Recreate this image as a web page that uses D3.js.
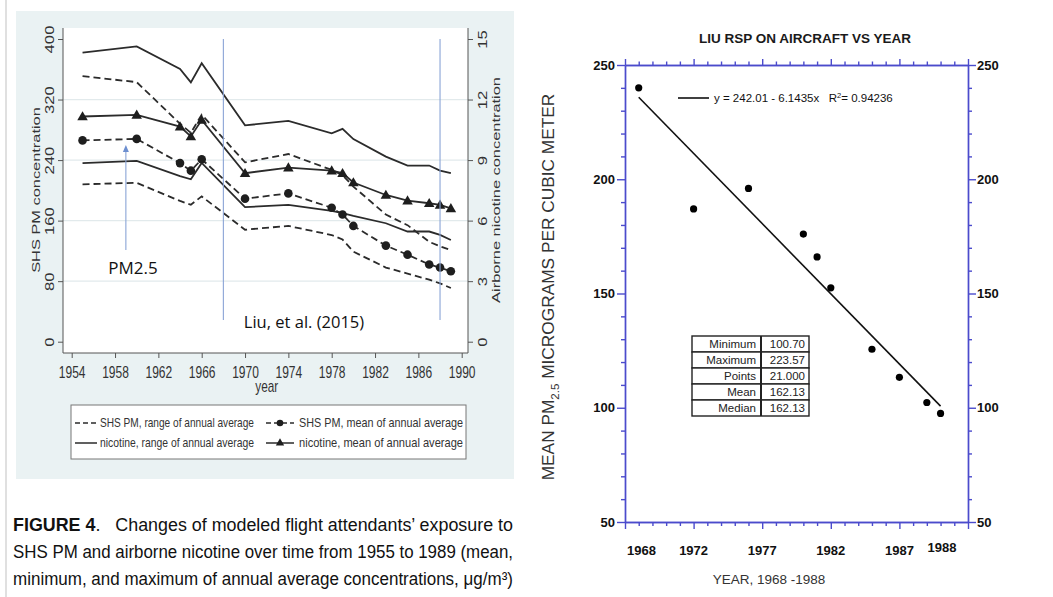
<!DOCTYPE html>
<html><head><meta charset="utf-8">
<script src="https://cdn.jsdelivr.net/npm/d3@7/dist/d3.min.js"></script>
<style>
html,body{margin:0;padding:0;background:#fff;}
svg{display:block;font-family:"Liberation Sans",Arial,Helvetica,sans-serif;}
</style></head><body>
<svg id="c" width="1053" height="597"></svg>
<script>
// ===== Left figure (Figure 4) data =====
const years   = [1955,1960,1964,1965,1966,1970,1974,1978,1979,1980,1983,1985,1987,1988,1989];
const pmMax   = [351,343,288,276,300,237,248,227,220,205,168,154,132,126,121];
const pmMean  = [266,268,236,226,241,189,196,177,168,153,127,115,102,98,93];
const pmMin   = [208,210,186,181,192,148,153,141,135,119,98,90,82,77,71];
const nicMax  = [14.33,14.63,13.52,12.85,13.8,10.72,10.94,10.33,10.55,10.04,9.17,8.73,8.73,8.48,8.35];
const nicMean = [11.16,11.24,10.66,10.17,10.99,8.35,8.63,8.48,8.35,7.89,7.27,6.99,6.86,6.78,6.61];
const nicMin  = [8.85,8.96,8.21,8.05,8.86,6.67,6.78,6.48,6.37,6.23,5.87,5.46,5.46,5.29,5.04];
const pmTicks  = [0,80,160,240,320,400];
const nicTicks = [0,3,6,9,12,15];
const yearTicks = [1954,1958,1962,1966,1970,1974,1978,1982,1986,1990];
const legendLabels = ["SHS PM, range of annual average","SHS PM, mean of annual average",
                      "nicotine, range of annual average","nicotine, mean of annual average"];
const annotYears = [1968, 1988];
const arrowYear = 1959;
const captionLines = ["Changes of modeled flight attendants\u2019 exposure to",
  "SHS PM and airborne nicotine over time from 1955 to 1989 (mean,",
  "minimum, and maximum of annual average concentrations, \u03bcg/m\u00b3)"];

// ===== Right figure (Liu RSP) data =====
const rspX = [1,5,9,13,14,15,18,20,22,23];
const rspY = [240,187,196,176,166,152.5,125.6,113.3,102.3,97.5];
const fitCoef = [242.01, -6.1435];   // intercept, slope
const fitRange = [1, 23];
const rspXTickPos = [1.2,5,10,15,20,23.1];
const rspXTickLab = ["1968","1972","1977","1982","1987","1988"];
const rspYMajor = [50,100,150,200,250];
const tableLabels = ["Minimum","Maximum","Points","Mean","Median"];
const tableValues = ["100.70","223.57","21.000","162.13","162.13"];

const svg = d3.select('#c');
const SV = 1.39;   // vertical stretch of the left figure's text
const INK = '#2b2b2b';

function stext(parent, x, y, str, o) {
  o = o || {};
  const g = parent.append('g').attr('transform', `translate(${x},${y}) scale(1,${SV})` + (o.rot ? ` rotate(${o.rot})` : ''));
  const t = g.append('text').attr('text-anchor', o.anchor || 'middle').attr('dy', '0.35em')
    .attr('font-size', o.size || 12).attr('fill', o.fill || '#333').text(str);
  if (o.len) t.attr('textLength', o.len).attr('lengthAdjust', 'spacingAndGlyphs');
  return t;
}

// ---------- LEFT FIGURE ----------
svg.append('line').attr('x1',6).attr('x2',6).attr('y1',0).attr('y2',597).attr('stroke','#d6d6d6').attr('stroke-width',1.5);
const Lg = svg.append('g');
Lg.append('rect').attr('x',16).attr('y',11).attr('width',498).attr('height',468).attr('fill','#eaf2f3');
Lg.append('rect').attr('x',63).attr('y',28).attr('width',405).attr('height',325).attr('fill','#fff');

const xL = d3.scaleLinear().domain([1954,1990]).range([71.7,461.7]);
const yPM = d3.scaleLinear().domain([0,400]).range([341.7,39]);
const yNic = d3.scaleLinear().domain([0,15]).range([341.7,39]);

// grid
Lg.append('g').selectAll('line').data(pmTicks.filter(d=>d>0&&d<400)).join('line')
  .attr('x1',63).attr('x2',468).attr('y1',d=>yPM(d)).attr('y2',d=>yPM(d))
  .attr('stroke','#e2eaec').attr('stroke-width',1.2);

// axes
function styleAxis(g){ g.select('.domain').remove(); g.selectAll('.tick line').attr('stroke','#555'); g.selectAll('text').attr('fill','#333').attr('font-size',12).attr('font-family','"Liberation Sans",Arial,sans-serif'); }
const axLeft = Lg.append('g').attr('transform','translate(63,0)').call(d3.axisLeft(yPM).tickValues(pmTicks).tickSize(5)).call(styleAxis);
axLeft.selectAll('text').attr('x',0).attr('dy','0.35em').attr('text-anchor','middle').attr('transform',`translate(-13.5,0) scale(1,${SV}) rotate(-90)`);
const axRight = Lg.append('g').attr('transform','translate(468,0)').call(d3.axisRight(yNic).tickValues(nicTicks).tickSize(5)).call(styleAxis);
axRight.selectAll('text').attr('x',0).attr('dy','0.35em').attr('text-anchor','middle').attr('transform',`translate(14.5,0) scale(1,${SV}) rotate(-90)`);
const axBot = Lg.append('g').attr('transform','translate(0,353)').call(d3.axisBottom(xL).tickValues(yearTicks).tickFormat(d3.format('d')).tickSize(5)).call(styleAxis);
axBot.selectAll('text').attr('y',0).attr('dy','0.35em').attr('transform',`translate(0,19) scale(1,${SV})`);
Lg.append('line').attr('x1',63).attr('x2',63).attr('y1',28).attr('y2',353).attr('stroke','#555');
Lg.append('line').attr('x1',468).attr('x2',468).attr('y1',28).attr('y2',353).attr('stroke','#555');
Lg.append('line').attr('x1',63).attr('x2',468).attr('y1',353).attr('y2',353).attr('stroke','#555');

stext(Lg, 36, 190, 'SHS PM concentration', {rot:-90, size:11.8});
stext(Lg, 496, 190, 'Airborne nicotine concentration', {rot:-90, size:11.8});
stext(Lg, 266.7, 386, 'year', {size:11.8});

// series
const dashed = '7,4';
function drawSeries(vals, yScale, dash) {
  Lg.append('path').datum(years.map((y,i)=>[y, vals[i]]))
    .attr('d', d3.line().x(d=>xL(d[0])).y(d=>yScale(d[1])))
    .attr('fill','none').attr('stroke',INK).attr('stroke-width',1.8)
    .attr('stroke-dasharray', dash || null);
}
drawSeries(nicMax, yNic);
drawSeries(nicMin, yNic);
drawSeries(nicMean, yNic);
drawSeries(pmMax, yPM, dashed);
drawSeries(pmMin, yPM, dashed);
drawSeries(pmMean, yPM, dashed);
Lg.append('g').selectAll('circle').data(years).join('circle')
  .attr('cx',(d)=>xL(d)).attr('cy',(d,i)=>yPM(pmMean[i])).attr('r',4.3).attr('fill','#1e1e1e');
const tri = d3.symbol().type(d3.symbolTriangle).size(48);
Lg.append('g').selectAll('path').data(years).join('path')
  .attr('d', tri).attr('transform',(d,i)=>`translate(${xL(d)},${yNic(nicMean[i])+0.8})`).attr('fill','#1e1e1e');

// annotations (blue)
const blue = '#8aa4d6';
Lg.append('g').selectAll('line').data(annotYears).join('line')
  .attr('x1',d=>xL(d)).attr('x2',d=>xL(d)).attr('y1',yPM(400)).attr('y2',320)
  .attr('stroke',blue).attr('stroke-width',1.1);
Lg.append('line').attr('x1',xL(arrowYear)).attr('x2',xL(arrowYear)).attr('y1',250).attr('y2',150)
  .attr('stroke',blue).attr('stroke-width',1.1);
Lg.append('path').attr('d',`M${xL(arrowYear)-3},152 L${xL(arrowYear)},145 L${xL(arrowYear)+3},152 Z`).attr('fill','#6d8fd0');
Lg.append('text').attr('x',133).attr('y',274).attr('text-anchor','middle').attr('font-size',17)
  .attr('font-family','"Open Sans","Liberation Sans",sans-serif').attr('fill','#111').text('PM2.5');
Lg.append('text').attr('x',304).attr('y',328).attr('text-anchor','middle').attr('font-size',16.5)
  .attr('font-family','"Open Sans","Liberation Sans",sans-serif').attr('fill','#111').text('Liu, et al. (2015)');

// legend
const lg = Lg.append('g');
lg.append('rect').attr('x',71).attr('y',405).attr('width',395).attr('height',54).attr('fill','#fff').attr('stroke','#777');
const rowsY = [423,443];
const legItems = [
  {col:0,row:0,dash:dashed,mark:null},
  {col:1,row:0,dash:dashed,mark:'c'},
  {col:0,row:1,dash:null,mark:null},
  {col:1,row:1,dash:null,mark:'t'}];
const colSym = [[75,97],[266,294]];
const colTxt = [100,299];
const colLen = [154,164];
legItems.forEach((it,i)=>{
  const y = rowsY[it.row], s = colSym[it.col];
  lg.append('line').attr('x1',s[0]).attr('x2',s[1]).attr('y1',y).attr('y2',y)
    .attr('stroke',INK).attr('stroke-width',1.5).attr('stroke-dasharray', it.dash ? '5,3' : null);
  if (it.mark==='c') lg.append('circle').attr('cx',(s[0]+s[1])/2).attr('cy',y).attr('r',3.3).attr('fill','#1e1e1e');
  if (it.mark==='t') lg.append('path').attr('d',d3.symbol().type(d3.symbolTriangle).size(30)).attr('transform',`translate(${(s[0]+s[1])/2},${y})`).attr('fill','#1e1e1e');
  stext(lg, colTxt[it.col], y, legendLabels[i], {anchor:'start', size:8.6, len:colLen[it.col]});
});

// caption
const cap = svg.append('g').attr('fill','#111').attr('font-size',17.5);
const c1 = cap.append('text').attr('x',13).attr('y',531).attr('textLength',500).attr('lengthAdjust','spacingAndGlyphs');
c1.append('tspan').attr('font-weight','bold').text('FIGURE 4');
c1.append('tspan').text('.\u00a0\u00a0\u00a0' + captionLines[0]);
cap.append('text').attr('x',13).attr('y',558).attr('textLength',500).attr('lengthAdjust','spacingAndGlyphs').text(captionLines[1]);
cap.append('text').attr('x',13).attr('y',585).attr('textLength',500).attr('lengthAdjust','spacingAndGlyphs').text(captionLines[2]);

// ---------- RIGHT FIGURE ----------
const R = svg.append('g');
const AX = '#4b4bcc';
const xR = d3.scaleLinear().domain([0,25]).range([625,968]);
const yR = d3.scaleLinear().domain([50,250]).range([522,65]);
const minorY = d3.range(50,251,10).filter(d=>!rspYMajor.includes(d));
const minorX = d3.range(0,26,1).filter(d=>d%5!==0);
const majorX = d3.range(0,26,5);
function blueAxis(g){ g.selectAll('.domain,.tick line').attr('stroke',AX).attr('stroke-width',1.4); g.selectAll('text').attr('font-weight','bold').attr('font-size',13).attr('fill','#111').attr('font-family','"Liberation Sans",Arial,sans-serif'); }
R.append('g').attr('transform','translate(625,0)').call(d3.axisLeft(yR).tickValues(rspYMajor).tickSize(8).tickPadding(2).tickSizeOuter(0)).call(blueAxis);
R.append('g').attr('transform','translate(625,0)').call(d3.axisLeft(yR).tickValues(minorY).tickSize(4).tickFormat('').tickSizeOuter(0)).call(blueAxis);
R.append('g').attr('transform','translate(968,0)').call(d3.axisRight(yR).tickValues(rspYMajor).tickSize(8).tickPadding(1).tickSizeOuter(0)).call(blueAxis);
R.append('g').attr('transform','translate(968,0)').call(d3.axisRight(yR).tickValues(minorY).tickSize(4).tickFormat('').tickSizeOuter(0)).call(blueAxis);
R.append('g').attr('transform','translate(0,522)').call(d3.axisBottom(xR).tickValues(majorX).tickSize(7).tickFormat('').tickSizeOuter(0)).call(blueAxis);
R.append('g').attr('transform','translate(0,522)').call(d3.axisBottom(xR).tickValues(minorX).tickSize(4).tickFormat('').tickSizeOuter(0)).call(blueAxis);
R.append('g').attr('transform','translate(0,65)').call(d3.axisTop(xR).tickValues(majorX).tickSize(6).tickFormat('').tickSizeOuter(0)).call(blueAxis);
R.append('g').attr('transform','translate(0,65)').call(d3.axisTop(xR).tickValues(minorX).tickSize(3.5).tickFormat('').tickSizeOuter(0)).call(blueAxis);

R.append('g').selectAll('text').data(rspXTickLab).join('text')
  .attr('x',(d,i)=>xR(rspXTickPos[i])).attr('y',(d,i)=> i===5 ? 547 : 550).attr('dy','0.35em')
  .attr('text-anchor','middle').attr('font-weight','bold').attr('font-size',13).attr('fill','#111').text(d=>d);

// fit line
R.append('line').attr('x1',xR(fitRange[0])).attr('y1',yR(fitCoef[0]+fitCoef[1]*fitRange[0]))
  .attr('x2',xR(fitRange[1])).attr('y2',yR(fitCoef[0]+fitCoef[1]*fitRange[1]))
  .attr('stroke','#111').attr('stroke-width',1.6);
// points
R.append('g').selectAll('circle').data(rspX).join('circle')
  .attr('cx',d=>xR(d)).attr('cy',(d,i)=>yR(rspY[i])).attr('r',3.6).attr('fill','#000');

// fit legend
R.append('line').attr('x1',678).attr('x2',709).attr('y1',98).attr('y2',98).attr('stroke','#111').attr('stroke-width',1.6);
const ft = R.append('text').attr('x',714).attr('y',98).attr('dy','0.35em').attr('font-size',11.5).attr('fill','#111');
ft.append('tspan').text(`y = ${fitCoef[0].toFixed(2)} - ${Math.abs(fitCoef[1]).toFixed(4)}x\u00a0\u00a0\u00a0R`);
ft.append('tspan').attr('font-size',7.5).attr('dy',-4).text('2');
ft.append('tspan').attr('dy',4).text('= 0.94236');

// stats table
const tb = R.append('g');
const tX0 = 692, tX1 = 761, tX2 = 809, tY0 = 336, rowH = 16;
tableLabels.forEach((lab,i)=>{
  const y = tY0 + i*rowH;
  tb.append('rect').attr('x',tX0).attr('y',y).attr('width',tX2-tX0).attr('height',rowH).attr('fill','#fff').attr('stroke','#222').attr('stroke-width',1.4);
  tb.append('text').attr('x',tX1-5).attr('y',y+rowH/2).attr('dy','0.35em').attr('text-anchor','end').attr('font-size',11.5).attr('fill','#222').text(lab);
  tb.append('text').attr('x',tX2-4).attr('y',y+rowH/2).attr('dy','0.35em').attr('text-anchor','end').attr('font-size',11.5).attr('fill','#222').text(tableValues[i]);
});
tb.append('line').attr('x1',tX1).attr('x2',tX1).attr('y1',tY0).attr('y2',tY0+rowH*5).attr('stroke','#222').attr('stroke-width',2);

// titles
R.append('text').attr('x',805).attr('y',38).attr('dy','0.35em').attr('text-anchor','middle').attr('font-weight','bold').attr('font-size',13.5).attr('fill','#1a1a1a').text('LIU RSP ON AIRCRAFT VS YEAR');
R.append('text').attr('x',769).attr('y',579).attr('dy','0.35em').attr('text-anchor','middle').attr('font-size',13.5).attr('fill','#333').text('YEAR, 1968 -1988');
const yl = R.append('text').attr('transform','translate(548,287) rotate(-90)').attr('dy','0.35em').attr('text-anchor','middle').attr('font-size',17.3).attr('fill','#333');
yl.append('tspan').text('MEAN PM');
yl.append('tspan').attr('font-size',11.5).attr('dy',5).text('2.5');
yl.append('tspan').attr('dy',-5).text(' MICROGRAMS PER CUBIC METER');
</script>
</body></html>
